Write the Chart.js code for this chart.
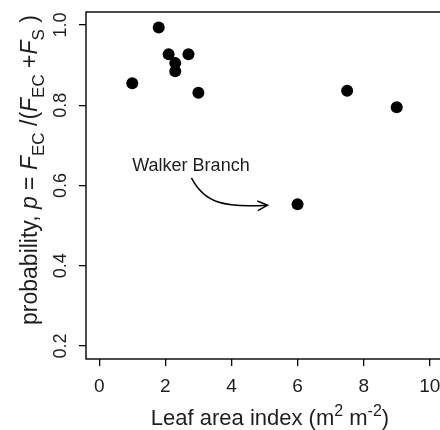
<!DOCTYPE html>
<html>
<head>
<meta charset="utf-8">
<script src="https://cdn.jsdelivr.net/npm/chart.js@4.4.0/dist/chart.umd.min.js"></script>
<style>
  html, body { margin: 0; padding: 0; background: #fff; overflow: hidden; }
  #wrap { width: 440px; height: 430px; overflow: hidden; }
  canvas { display: block; }
</style>
</head>
<body>
<div id="wrap"><canvas id="chart" width="450" height="430"></canvas></div>
<script>
// leaf area index (m2 m-2), one value per site
const leafAreaIndex = [1.0, 1.8, 2.1, 2.7, 2.3, 2.3, 3.0, 7.5, 9.0, 6.0];
// probability p = F_EC / (F_EC + F_S)
const probability = [0.855, 0.994, 0.927, 0.927, 0.905, 0.885, 0.831, 0.836, 0.795, 0.553];

const xTicks = [0, 2, 4, 6, 8, 10];
const yTicks = [0.2, 0.4, 0.6, 0.8, 1.0];

// annotation, in data units
const noteText = 'Walker Branch';
const notePos = [1.0, 0.636];
const arrowCurve = [[2.79, 0.619], [3.18, 0.556], [3.79, 0.544], [5.09, 0.551]];

const FONT = '"Liberation Sans", Arial, Helvetica, sans-serif';
const INK = '#1e1e1e';

// text runs: n = normal, i = italic, sub / sup = small shifted
const yTitle = [
  ['probability, ', 'n'], ['p', 'i'], [' = ', 'n'], ['F', 'i'], ['EC', 'sub'],
  [' /(', 'n'], ['F', 'i'], ['EC', 'sub'], [' +', 'n'], ['F', 'i'], ['S', 'sub'], [' )', 'n']
];
const xTitle = [
  ['Leaf area index (m', 'n'], ['2', 'sup'], [' m', 'n'], ['-2', 'sup'], [')', 'n']
];

function runFont(style, size) {
  const small = Math.round(size * 0.72);
  if (style === 'i') return `italic ${size}px ${FONT}`;
  if (style === 'sub' || style === 'sup') return `${small}px ${FONT}`;
  return `${size}px ${FONT}`;
}

function runsWidth(ctx, runs, size) {
  let w = 0;
  runs.forEach(([t, s]) => { ctx.font = runFont(s, size); w += ctx.measureText(t).width; });
  return w;
}

// draws runs centred on 0 along the baseline of the current transform
function drawRuns(ctx, runs, size) {
  ctx.textAlign = 'left';
  let x = -runsWidth(ctx, runs, size) / 2;
  runs.forEach(([t, s]) => {
    ctx.font = runFont(s, size);
    let dy = 0;
    if (s === 'sub') dy = size * 0.3;
    if (s === 'sup') dy = -size * 0.42;
    ctx.fillText(t, x, dy);
    x += ctx.measureText(t).width;
  });
}

const decorations = {
  id: 'decorations',
  afterDraw(chart) {
    const { ctx, chartArea: a, scales: { x, y } } = chart;
    ctx.save();

    // plot box
    ctx.strokeStyle = '#000';
    ctx.lineWidth = 1.4;
    ctx.strokeRect(a.left, a.top, a.right - a.left, a.bottom - a.top);

    ctx.fillStyle = INK;
    ctx.textBaseline = 'alphabetic';

    // y tick labels, parallel to the axis
    ctx.font = `18px ${FONT}`;
    y.ticks.forEach(t => {
      ctx.save();
      ctx.translate(66, y.getPixelForValue(t.value));
      ctx.rotate(-Math.PI / 2);
      ctx.textAlign = 'center';
      ctx.fillText(t.value.toFixed(1), 0, 0);
      ctx.restore();
    });

    // y axis title
    ctx.save();
    ctx.translate(37, 170);
    ctx.rotate(-Math.PI / 2);
    drawRuns(ctx, yTitle, 23);
    ctx.restore();

    // x axis title
    ctx.save();
    ctx.translate(270, 425);
    drawRuns(ctx, xTitle, 22);
    ctx.restore();

    // note
    ctx.textAlign = 'left';
    ctx.font = `18px ${FONT}`;
    ctx.fillText(noteText, x.getPixelForValue(notePos[0]), y.getPixelForValue(notePos[1]));

    const p = arrowCurve.map(([vx, vy]) => [x.getPixelForValue(vx), y.getPixelForValue(vy)]);
    ctx.lineWidth = 1.5;
    ctx.beginPath();
    ctx.moveTo(p[0][0], p[0][1]);
    ctx.bezierCurveTo(p[1][0], p[1][1], p[2][0], p[2][1], p[3][0], p[3][1]);
    ctx.stroke();
    // arrow head
    const ang = Math.atan2(p[3][1] - p[2][1], p[3][0] - p[2][0]);
    const len = 11, spread = 0.45;
    ctx.beginPath();
    ctx.moveTo(p[3][0] - len * Math.cos(ang - spread), p[3][1] - len * Math.sin(ang - spread));
    ctx.lineTo(p[3][0], p[3][1]);
    ctx.lineTo(p[3][0] - len * Math.cos(ang + spread), p[3][1] - len * Math.sin(ang + spread));
    ctx.stroke();

    ctx.restore();
  }
};

const tickGrid = {
  display: true,
  drawOnChartArea: false,
  drawTicks: true,
  tickLength: 7,
  color: '#000',
  tickColor: '#000',
  lineWidth: 1.3
};

new Chart(document.getElementById('chart'), {
  type: 'scatter',
  data: {
    datasets: [{
      data: leafAreaIndex.map((v, i) => ({ x: v, y: probability[i] })),
      backgroundColor: '#000',
      borderWidth: 0,
      pointRadius: 6,
      pointHoverRadius: 6
    }]
  },
  options: {
    responsive: false,
    animation: false,
    devicePixelRatio: 1,
    events: [],
    layout: { padding: { top: 12, right: 7, left: 0, bottom: 0 } },
    plugins: { legend: { display: false }, tooltip: { enabled: false } },
    scales: {
      x: {
        type: 'linear',
        min: -0.4,
        max: 10.4,
        afterBuildTicks: s => { s.ticks = xTicks.map(v => ({ value: v })); },
        afterFit: s => { s.height = 71; s.paddingLeft = 0; s.paddingRight = 0; },
        grid: tickGrid,
        border: { display: false },
        ticks: {
          font: { family: FONT, size: 19 },
          color: INK,
          padding: 9,
          maxRotation: 0,
          callback: v => String(v)
        }
      },
      y: {
        type: 'linear',
        min: 0.1676,
        max: 1.0324,
        afterBuildTicks: s => { s.ticks = yTicks.map(v => ({ value: v })); },
        afterFit: s => { s.width = 86; s.paddingTop = 0; s.paddingBottom = 0; },
        grid: tickGrid,
        border: { display: false },
        ticks: { display: false }
      }
    }
  },
  plugins: [decorations]
});
</script>
</body>
</html>
